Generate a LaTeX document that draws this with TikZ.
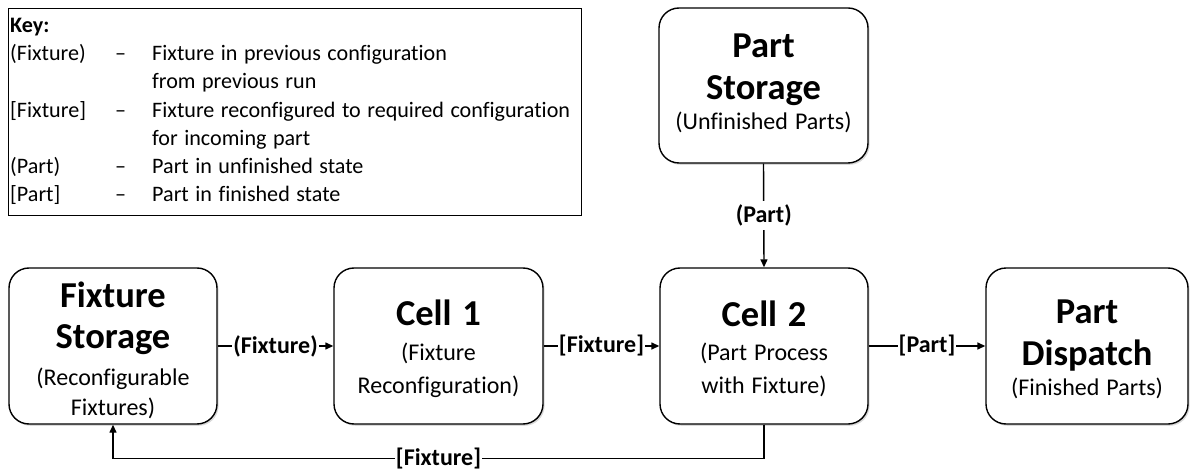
\documentclass[tikz,border=0pt]{standalone}
\usepackage{fontspec}
\setmainfont{Carlito}[Ligatures=NoCommon, WordSpace={1.3,1,0}]
\usetikzlibrary{arrows.meta,shadows,calc}

\tikzset{
  proc/.style={draw, line width=1.4pt, rounded corners=20pt, fill=white,
    inner sep=0pt, minimum height=156pt,
    drop shadow={opacity=0.3, shadow xshift=1.6pt, shadow yshift=-1.8pt}},
  ttl/.style={anchor=base, inner sep=0pt, font=\fontsize{36.5}{42}\selectfont\bfseries},
  sub/.style={anchor=base, inner sep=0pt, font=\fontsize{24}{30}\selectfont},
  flow/.style={line width=1.4pt, -{Triangle[length=8pt,width=7pt]}},
  lbl/.style={fill=white, inner xsep=1pt, inner ysep=3pt,
    font=\fontsize{24}{29}\selectfont\bfseries},
  keyframe/.style={draw, line width=1.2pt, inner sep=0pt},
}

\begin{document}
\begin{tikzpicture}[x=1pt, y=-1pt]
\useasboundingbox (0,0) rectangle (1190,470);

% legend
\node (keyframe) [keyframe, anchor=north west, minimum width=573pt, minimum height=207pt] at (8,8) {};
\node (keytext) [anchor=north west, inner sep=0pt, font=\fontsize{22.1}{28.2}\selectfont] at (10,12.5) {%
\begin{tabular}{@{}p{105pt}@{}p{37pt}@{}l@{}}
\multicolumn{3}{@{}l}{\textbf{Key:}}\\
(Fixture) & – & Fixture in previous configuration\\
 & & from previous run\\
{[Fixture]} & – & Fixture reconfigured to required configuration\\
 & & for incoming part\\
(Part) & – & Part in unfinished state\\
{[Part]} & – & Part in finished state
\end{tabular}};

% process boxes
\node (ps) [proc, minimum width=209pt, minimum height=155pt] at (763.5,85.5) {};
\node (fs) [proc, minimum width=208pt] at (113,346) {};
\node (c1) [proc, minimum width=209pt] at (438.5,346) {};
\node (c2) [proc, minimum width=208pt] at (764,346) {};
\node (pd) [proc, minimum width=202pt] at (1087,346) {};

% box texts, one line each, set on their baselines
\node (psA) [ttl] at (763.5,58) {Part};
\node (psB) [ttl] at (763.5,100) {Storage};
\node (psC) [sub] at (763.5,130) {(Unfinished Parts)};

\node (fsA) [ttl] at (113,307) {Fixture};
\node (fsB) [ttl] at (113,348) {Storage};
\node (fsC) [sub] at (113,385) {(Reconfigurable};
\node (fsD) [sub] at (113,415) {Fixtures)};

\node (c1A) [ttl] at (438.5,325) {Cell 1};
\node (c1B) [sub] at (438.5,360) {(Fixture};
\node (c1C) [sub] at (438.5,393) {Reconfiguration)};

\node (c2A) [ttl] at (764,326) {Cell 2};
\node (c2B) [sub] at (764,360) {(Part Process};
\node (c2C) [sub] at (764,393) {with Fixture)};

\node (pdA) [ttl] at (1087,323) {Part};
\node (pdB) [ttl] at (1087,365) {Dispatch};
\node (pdC) [sub] at (1087,395) {(Finished Parts)};

% material flow
\draw[flow] (fs.east) -- node[lbl] {(Fixture)} (c1.west);
\draw[flow] (c1.east) -- node[lbl] {[Fixture]} (c2.west);
\draw[flow] (c2.east) -- node[lbl] {[Part]} (pd.west);
\draw[flow] (ps.south) -- node[lbl, inner ysep=4pt] {(Part)} (c2.north);

% fixture return path
\coordinate (retR) at ($(c2.south)+(0,34)$);
\coordinate (retL) at (fs.south |- retR);
\draw[flow] (c2.south) -- (retR) -- node[lbl] {[Fixture]} (retL) -- (fs.south);
\end{tikzpicture}
\end{document}
